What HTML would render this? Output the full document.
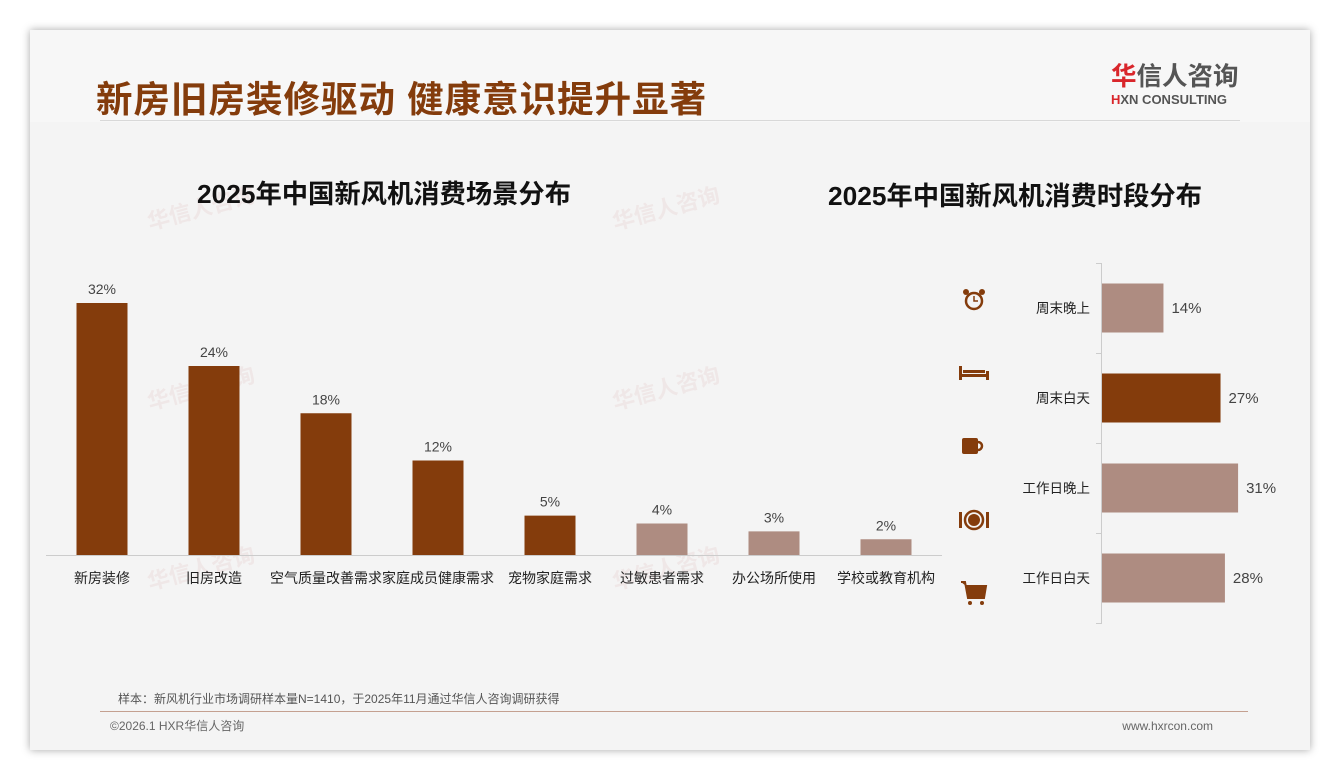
<!DOCTYPE html>
<html><head><meta charset="utf-8"><style>
body{margin:0;width:1340px;height:780px;background:#fff;font-family:"Liberation Sans","Noto Sans CJK SC",sans-serif;overflow:hidden}
#card{position:absolute;left:30px;top:30px;width:1280px;height:720px;background:#f4f4f4;box-shadow:0 0 8px rgba(0,0,0,.35)}
#hdr{position:absolute;left:0;top:0;width:1280px;height:92px;background:#f7f7f7}
.abs{position:absolute}
</style></head><body>
<div id="card">
<div id="hdr"></div>
<div class="abs" style="left:66px;top:40px;font-size:36.5px;font-weight:bold;color:#843c0c;letter-spacing:1px;white-space:nowrap">新房旧房装修驱动 健康意识提升显著</div>
<div class="abs" style="left:1081px;top:33px;width:170px;white-space:nowrap">
 <div style="font-size:25.5px;font-weight:bold;color:#555;line-height:29px"><span style="color:#d9262b">华</span>信人咨询</div>
 <div style="font-size:13px;font-weight:bold;color:#555;line-height:15px"><span style="color:#d9262b">H</span>XN CONSULTING</div>
</div>
<div class="abs" style="left:70px;top:90px;width:1140px;height:1px;background:#d8d8d8"></div>
<svg class="abs" style="left:0;top:0" width="1280" height="720">
<g fill="#e3c3c0" opacity="0.25" font-weight="bold">
<text x="120" y="200" font-size="22" transform="rotate(-15 120 200)">华信人咨询</text>
<text x="585" y="200" font-size="22" transform="rotate(-15 585 200)">华信人咨询</text>
<text x="120" y="380" font-size="22" transform="rotate(-15 120 380)">华信人咨询</text>
<text x="585" y="380" font-size="22" transform="rotate(-15 585 380)">华信人咨询</text>
<text x="120" y="560" font-size="22" transform="rotate(-15 120 560)">华信人咨询</text>
<text x="585" y="560" font-size="22" transform="rotate(-15 585 560)">华信人咨询</text>
</g>
<text x="354" y="173" text-anchor="middle" font-size="26.3" font-weight="bold" fill="#111">2025年中国新风机消费场景分布</text>
<text x="985" y="175" text-anchor="middle" font-size="26.3" font-weight="bold" fill="#111">2025年中国新风机消费时段分布</text>
<g id="left"></g><g id="right"></g>
<g fill="#843c0c">
 <circle cx="944" cy="271" r="8" fill="none" stroke="#843c0c" stroke-width="2.5"/><path d="M944 266v5h4" stroke="#843c0c" stroke-width="1.5" fill="none"/><circle cx="936" cy="262" r="3"/><circle cx="952" cy="262" r="3"/>
 <rect x="929" y="336" width="3" height="14"/><rect x="956" y="341" width="3" height="9"/><rect x="929" y="344" width="30" height="3"/><rect x="933" y="340" width="22" height="3"/>
 <rect x="932" y="408" width="16" height="16" rx="2"/><path d="M948 412a4 4 0 0 1 0 8" stroke="#843c0c" stroke-width="2.5" fill="none"/>
 <circle cx="944" cy="490" r="9" fill="none" stroke="#843c0c" stroke-width="2.5"/><circle cx="944" cy="490" r="6"/><rect x="929" y="482" width="3" height="16"/><rect x="956" y="482" width="3" height="16"/>
 <path d="M931 552h4l3 16h16l2-12h-20" stroke="#843c0c" stroke-width="2" fill="#843c0c"/><circle cx="940" cy="573" r="2"/><circle cx="952" cy="573" r="2"/>
</g>
<text x="88" y="673" font-size="12" fill="#555">样本：新风机行业市场调研样本量N=1410，于2025年11月通过华信人咨询调研获得</text>
<rect x="70" y="681" width="1148" height="1" fill="#c4a090"/>
<text x="80" y="700" font-size="12" fill="#666">©2026.1 HXR华信人咨询</text>
<text x="1183" y="700" text-anchor="end" font-size="12" fill="#666">www.hxrcon.com</text>
</svg>
</div>
<script>
const scenes=["新房装修","旧房改造","空气质量改善需求","家庭成员健康需求","宠物家庭需求","过敏患者需求","办公场所使用","学校或教育机构"];
const sceneVals=[32,24,18,12,5,4,3,2];
const sceneDark=[1,1,1,1,1,0,0,0];
const periods=["周末晚上","周末白天","工作日晚上","工作日白天"];
const periodVals=[14,27,31,28];
const periodDark=[0,1,0,0];
const NS="http://www.w3.org/2000/svg";
function mk(p,t,a){const e=document.createElementNS(NS,t);for(const k in a)e.setAttribute(k,a[k]);p.appendChild(e);return e;}
const L=document.getElementById('left');
const base=525,ly=v=>base-v*7.875,lx=i=>72+i*112;
let ax=mk(L,'line',{x1:16,x2:912,y1:base+.5,y2:base+.5,stroke:'#ccc'});


scenes.forEach((c,i)=>{
 const v=sceneVals[i];
 const r=mk(L,'rect',{x:lx(i)-25.5,y:ly(v),width:51,height:base-ly(v),fill:sceneDark[i]?'#843c0c':'#ae8c81'});
 
 
 const t=mk(L,'text',{x:lx(i),y:ly(v)-9,'text-anchor':'middle','font-size':14,fill:'#444'});t.textContent=v+'%';
 
 
 const c2=mk(L,'text',{x:lx(i),y:553,'text-anchor':'middle','font-size':14,fill:'#222'});c2.textContent=c;
 
 
});
const R=document.getElementById('right');
const x0=1072,rx=v=>x0+v*4.39,ry=i=>278+i*90;
let a2=mk(R,'line',{x1:x0-.5,x2:x0-.5,y1:233,y2:593,stroke:'#ccc'});


for(let i=0;i<=periods.length;i++){const tk=mk(R,'line',{x1:x0-6,x2:x0,y1:233+i*90+.5,y2:233+i*90+.5,stroke:'#ccc'});
 
 }
periods.forEach((p,i)=>{
 const v=periodVals[i];
 const r=mk(R,'rect',{x:x0,y:ry(i)-24.5,width:rx(v)-x0,height:49,fill:periodDark[i]?'#843c0c':'#ae8c81'});
 
 
 const t=mk(R,'text',{x:rx(v)+8,y:ry(i)+5,'font-size':15,fill:'#444'});t.textContent=v+'%';
 
 
 const c=mk(R,'text',{x:x0-12,y:ry(i)+5,'text-anchor':'end','font-size':13.5,fill:'#222'});c.textContent=p;
 
 
});
</script>
</body></html>
